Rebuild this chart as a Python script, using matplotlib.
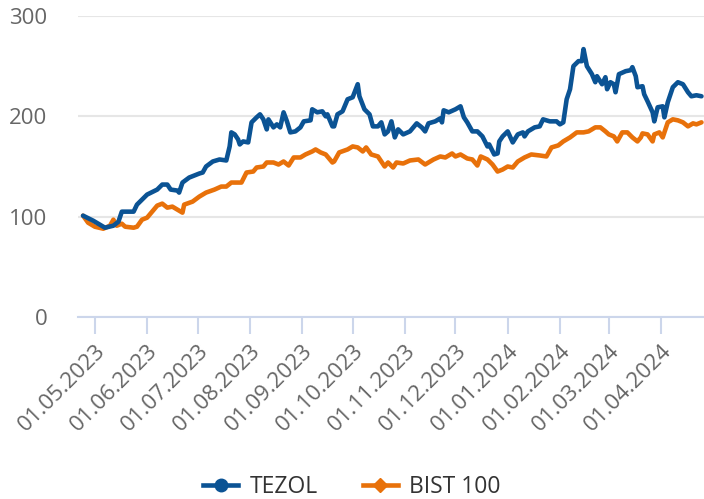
import pandas as pd
import matplotlib
matplotlib.use("Agg")
import matplotlib.pyplot as plt
import matplotlib.dates as mdates
from matplotlib.lines import Line2D

plt.rcParams['font.family'] = ['Open Sans', 'DejaVu Sans']

# TEZOL (normalised to 100)
tezol_dates = [
    "2023-04-24", "2023-04-30", "2023-05-04", "2023-05-07", "2023-05-12", "2023-05-15",
    "2023-05-17", "2023-05-24", "2023-05-26", "2023-05-29", "2023-06-01", "2023-06-07",
    "2023-06-10", "2023-06-13", "2023-06-15", "2023-06-19", "2023-06-20", "2023-06-22",
    "2023-06-26", "2023-07-02", "2023-07-04", "2023-07-06", "2023-07-10", "2023-07-14",
    "2023-07-18", "2023-07-20", "2023-07-21", "2023-07-23", "2023-07-25", "2023-07-26",
    "2023-07-28", "2023-07-31", "2023-08-02", "2023-08-05", "2023-08-07", "2023-08-09",
    "2023-08-11", "2023-08-12", "2023-08-15", "2023-08-17", "2023-08-19", "2023-08-21",
    "2023-08-23", "2023-08-25", "2023-08-28", "2023-08-31", "2023-09-02", "2023-09-06",
    "2023-09-07", "2023-09-10", "2023-09-13", "2023-09-15", "2023-09-16", "2023-09-19",
    "2023-09-20", "2023-09-22", "2023-09-25", "2023-09-28", "2023-10-01", "2023-10-04",
    "2023-10-05", "2023-10-08", "2023-10-11", "2023-10-13", "2023-10-16", "2023-10-18",
    "2023-10-20", "2023-10-22", "2023-10-24", "2023-10-26", "2023-10-28", "2023-10-31",
    "2023-11-04", "2023-11-08", "2023-11-11", "2023-11-13", "2023-11-15", "2023-11-19",
    "2023-11-22", "2023-11-23", "2023-11-24", "2023-11-27", "2023-12-01", "2023-12-04",
    "2023-12-06", "2023-12-08", "2023-12-11", "2023-12-14", "2023-12-17", "2023-12-20",
    "2023-12-21", "2023-12-24", "2023-12-26", "2023-12-27", "2023-12-29", "2024-01-01",
    "2024-01-04", "2024-01-07", "2024-01-10", "2024-01-11", "2024-01-13", "2024-01-17",
    "2024-01-20", "2024-01-22", "2024-01-26", "2024-01-30", "2024-02-01", "2024-02-03",
    "2024-02-05", "2024-02-07", "2024-02-09", "2024-02-12", "2024-02-14", "2024-02-15",
    "2024-02-17", "2024-02-20", "2024-02-22", "2024-02-23", "2024-02-26", "2024-02-28",
    "2024-02-29", "2024-03-02", "2024-03-04", "2024-03-05", "2024-03-07", "2024-03-11",
    "2024-03-14", "2024-03-15", "2024-03-17", "2024-03-18", "2024-03-21", "2024-03-22",
    "2024-03-24", "2024-03-27", "2024-03-28", "2024-03-30", "2024-04-02", "2024-04-03",
    "2024-04-05", "2024-04-08", "2024-04-11", "2024-04-14", "2024-04-17", "2024-04-19",
    "2024-04-22", "2024-04-25",
]
tezol_values = [
    101, 96, 92, 89, 91, 95,
    105, 105, 112, 117, 122, 127,
    132, 132, 127, 126, 124, 134,
    139, 143, 144, 150, 155, 157,
    156, 170, 184, 182, 177, 172,
    175, 174, 194, 199, 202, 197,
    187, 197, 189, 192, 189, 204,
    195, 184, 185, 189, 195, 196,
    207, 204, 205, 200, 202, 190,
    190, 202, 205, 217, 219, 232,
    220, 207, 202, 190, 190, 194,
    182, 185, 195, 179, 187, 182,
    185, 193, 189, 185, 193, 195,
    198, 194, 206, 204, 207, 210,
    199, 194, 185, 185, 180, 170,
    172, 162, 163, 175, 180, 185,
    174, 182, 184, 180, 185, 189,
    190, 197, 195, 195, 192, 194,
    217, 227, 250, 255, 255, 267,
    250, 242, 234, 240, 232, 239,
    227, 234, 232, 224, 242, 245,
    246, 249, 240, 229, 230, 222,
    215, 204, 195, 209, 210, 199,
    214, 229, 234, 232, 224, 220,
    221, 220,
]

# BIST 100 (normalised to 100)
bist_dates = [
    "2023-04-24", "2023-04-27", "2023-05-01", "2023-05-06", "2023-05-10", "2023-05-12",
    "2023-05-14", "2023-05-17", "2023-05-19", "2023-05-24", "2023-05-26", "2023-05-29",
    "2023-06-01", "2023-06-04", "2023-06-07", "2023-06-10", "2023-06-13", "2023-06-16",
    "2023-06-19", "2023-06-22", "2023-06-23", "2023-06-28", "2023-07-02", "2023-07-06",
    "2023-07-11", "2023-07-15", "2023-07-18", "2023-07-21", "2023-07-25", "2023-07-27",
    "2023-07-30", "2023-08-03", "2023-08-05", "2023-08-09", "2023-08-11", "2023-08-15",
    "2023-08-18", "2023-08-21", "2023-08-24", "2023-08-27", "2023-08-31", "2023-09-03",
    "2023-09-07", "2023-09-09", "2023-09-12", "2023-09-15", "2023-09-19", "2023-09-20",
    "2023-09-23", "2023-09-28", "2023-10-01", "2023-10-04", "2023-10-07", "2023-10-09",
    "2023-10-12", "2023-10-16", "2023-10-20", "2023-10-22", "2023-10-25", "2023-10-27",
    "2023-10-31", "2023-11-04", "2023-11-09", "2023-11-13", "2023-11-18", "2023-11-22",
    "2023-11-25", "2023-11-29", "2023-12-01", "2023-12-04", "2023-12-08", "2023-12-11",
    "2023-12-14", "2023-12-16", "2023-12-20", "2023-12-23", "2023-12-26", "2023-12-29",
    "2024-01-01", "2024-01-04", "2024-01-07", "2024-01-11", "2024-01-15", "2024-01-20",
    "2024-01-24", "2024-01-27", "2024-01-31", "2024-02-03", "2024-02-07", "2024-02-11",
    "2024-02-15", "2024-02-18", "2024-02-22", "2024-02-25", "2024-02-28", "2024-03-01",
    "2024-03-04", "2024-03-06", "2024-03-09", "2024-03-12", "2024-03-15", "2024-03-18",
    "2024-03-20", "2024-03-21", "2024-03-24", "2024-03-27", "2024-03-28", "2024-03-31",
    "2024-04-02", "2024-04-05", "2024-04-08", "2024-04-11", "2024-04-14", "2024-04-17",
    "2024-04-20", "2024-04-22", "2024-04-25",
]
bist_values = [
    101, 94, 90, 88, 91, 97,
    91, 93, 90, 89, 90, 97,
    99, 105, 111, 113, 109, 110,
    107, 104, 112, 115, 120, 124,
    127, 130, 130, 134, 134, 134,
    144, 145, 149, 150, 154, 154,
    152, 155, 151, 159, 159, 162,
    165, 167, 164, 162, 154, 155,
    164, 167, 170, 169, 165, 169,
    162, 160, 150, 154, 149, 154,
    153, 156, 157, 152, 157, 160,
    159, 163, 160, 162, 158, 157,
    151, 160, 157, 152, 145, 147,
    150, 149, 155, 159, 162, 161,
    160, 169, 171, 175, 179, 184,
    184, 185, 189, 189, 185, 182,
    180, 175, 184, 184, 179, 175,
    179, 183, 182, 175, 182, 184,
    179, 194, 197, 196, 194, 190,
    193, 192, 194,
]

month_ticks = pd.date_range("2023-05-01", "2024-04-01", freq="MS")

blue = "#0b5394"
orange = "#e8710a"
axis_col = "#ccd6eb"

fig = plt.figure(figsize=(7.04, 4.99), dpi=100)
ax = fig.add_axes([78 / 704, (499 - 317) / 499, (704 - 78) / 704, (317 - 16) / 499])

ax.plot(pd.to_datetime(tezol_dates), tezol_values, color=blue, lw=3.3,
        solid_joinstyle="round", solid_capstyle="round", zorder=3)
ax.plot(pd.to_datetime(bist_dates), bist_values, color=orange, lw=3.3,
        solid_joinstyle="round", solid_capstyle="round", zorder=2)

ax.set_xlim(pd.Timestamp("2023-04-21"), pd.Timestamp("2024-04-26 12:00"))
ax.set_ylim(0, 300)
ax.set_yticks([0, 100, 200, 300])
ax.grid(axis="y", color="#e6e6e6", lw=1.5)
ax.set_axisbelow(True)

for s in ["left", "right", "top"]:
    ax.spines[s].set_visible(False)
ax.spines["bottom"].set_color(axis_col)
ax.spines["bottom"].set_linewidth(1.5)

ax.set_xticks(month_ticks)
ax.xaxis.set_major_formatter(mdates.DateFormatter("%d.%m.%Y"))
ax.tick_params(axis="x", length=12, width=1.5, color=axis_col, labelcolor="#666666",
               labelsize=16, pad=5)
ax.tick_params(axis="y", length=0, labelcolor="#666666", labelsize=16, pad=22)
for lbl in ax.get_xticklabels():
    lbl.set_rotation(45)
    lbl.set_ha("right")
    lbl.set_va("top")
    lbl.set_rotation_mode("anchor")

handles = [
    Line2D([], [], color=blue, lw=3.3, marker="o", markersize=9),
    Line2D([], [], color=orange, lw=3.3, marker="D", markersize=7.5),
]
fig.legend(handles, ["TEZOL", "BIST 100"], loc="center", bbox_to_anchor=(0.5, 1 - 487 / 499),
           ncol=2, frameon=False, fontsize=16.5, labelcolor="#333333",
           handlelength=1.5, handletextpad=0.5, columnspacing=2.0)

fig.savefig("out.png", dpi=100)
